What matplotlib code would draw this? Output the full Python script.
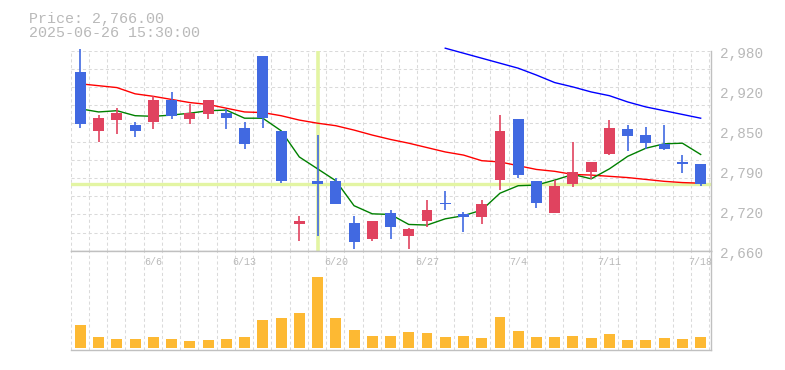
import matplotlib
matplotlib.use("Agg")
import matplotlib.pyplot as plt
import matplotlib.transforms as mtransforms
import numpy as np

# ---------------- data ----------------
dates = ["6/2", "6/3", "6/4", "6/5", "6/6", "6/9", "6/10", "6/11", "6/12", "6/13",
         "6/16", "6/17", "6/18", "6/19", "6/20", "6/23", "6/24", "6/25", "6/26", "6/27",
         "6/30", "7/1", "7/2", "7/3", "7/4", "7/7", "7/8", "7/9", "7/10", "7/11",
         "7/14", "7/15", "7/16", "7/17", "7/18"]
opens = [2946, 2852, 2869, 2861, 2866, 2901, 2871, 2878, 2880, 2856,
         2971, 2851, 2702, 2771, 2771, 2704, 2679, 2720, 2683, 2707,
         2736, 2718, 2714, 2773, 2871, 2771, 2720, 2767, 2786, 2815,
         2855, 2845, 2831, 2802, 2799]
highs = [2983, 2877, 2888, 2866, 2907, 2914, 2895, 2901, 2887, 2866,
         2971, 2851, 2715, 2845, 2776, 2715, 2708, 2725, 2696, 2741,
         2755, 2722, 2741, 2877, 2871, 2771, 2773, 2834, 2802, 2869,
         2861, 2858, 2861, 2813, 2799]
lows = [2857, 2834, 2847, 2842, 2855, 2871, 2862, 2871, 2855, 2822,
        2857, 2769, 2676, 2684, 2734, 2663, 2676, 2679, 2663, 2698,
        2725, 2690, 2703, 2757, 2777, 2729, 2720, 2762, 2774, 2813,
        2820, 2822, 2821, 2785, 2764]
closes = [2863, 2872, 2880, 2852, 2901, 2876, 2880, 2901, 2872, 2830,
          2873, 2772, 2708, 2766, 2734, 2674, 2708, 2698, 2695, 2725,
          2734, 2714, 2734, 2852, 2781, 2736, 2764, 2786, 2802, 2856,
          2844, 2833, 2823, 2799, 2766]
ma_short = [2887, 2882, 2884, 2876, 2875, 2877, 2880, 2884, 2885, 2872,
            2872, 2852, 2810, 2791, 2772, 2732, 2719, 2718, 2702, 2701,
            2711, 2716, 2725, 2752, 2764, 2765, 2773, 2782, 2775, 2791,
            2811, 2824, 2831, 2832, 2814]
ma_mid = [2927, 2924, 2921, 2911, 2907, 2902, 2897, 2894, 2888, 2882,
          2881, 2876, 2869, 2864, 2860, 2853, 2845, 2838, 2832, 2825,
          2818, 2813, 2804, 2802, 2796, 2790, 2787, 2782, 2781, 2779,
          2777, 2774, 2771, 2769, 2768]
ma_long = [np.nan] * 20 + [2984, 2976, 2968, 2960, 2952, 2941, 2929, 2922, 2914, 2908,
                           2898, 2890, 2884, 2878, 2872]
volumes = [345000, 165000, 135000, 135000, 165000, 135000, 105000, 120000, 135000, 165000,
           420000, 450000, 525000, 1065000, 450000, 270000, 180000, 180000, 240000, 225000,
           165000, 180000, 150000, 465000, 255000, 165000, 165000, 180000, 150000, 210000,
           120000, 120000, 150000, 135000, 165000]
xtick_labels = ["6/6", "6/13", "6/20", "6/27", "7/4", "7/11", "7/18"]
ytick_values = [2660, 2724, 2788, 2852, 2916, 2980]
ytick_labels = ["2,660", "2,720", "2,790", "2,850", "2,920", "2,980"]
cross_date = "6/19"
cross_price = 2766
title_lines = ["Price: 2,766.00", "2025-06-26 15:30:00"]

# ---------------- style ----------------
FONT = ["Liberation Mono", "DejaVu Sans Mono"]
TXT = "#b9b9b9"
GRID = "#dadada"
SPINE = "#c0c0c0"
UP = "#e0435f"
DOWN = "#4169e1"
VOL = "#fdb933"
CROSS = "#e3f5a3"

W, H = 785, 370
fig = plt.figure(figsize=(W / 100, H / 100), dpi=100)
fig.patch.set_facecolor("white")

L, R = 70.7, 710.7
ax = fig.add_axes([L / W, (H - 250.7) / H, (R - L) / W, 200 / H])
axv = fig.add_axes([L / W, (H - 350) / H, (R - L) / W, 99.3 / H])

x = np.arange(len(dates))
xlim = (-0.53, len(dates) - 1 + 0.55)
grid_x = np.arange(len(dates) + 1) - 0.53

for a in (ax, axv):
    a.set_xlim(*xlim)
    a.set_facecolor("white")
    for gx in grid_x:
        a.axvline(gx, color=GRID, lw=0.75, ls=(0, (3, 2.5)), zorder=0)
    a.set_xticks([])
    for s in a.spines.values():
        s.set_color(SPINE)
        s.set_linewidth(1.0)
    a.spines["left"].set_visible(False)

# price panel
ax.set_ylim(2660, 2980)
ax.spines["top"].set_visible(False)
for gy in np.linspace(2660, 2980, 12):
    ax.axhline(gy, color=GRID, lw=0.75, ls=(0, (3, 2.5)), zorder=0)

# crosshair
ci = dates.index(cross_date)
ax.axvline(ci, ymin=0.005, ymax=0.995, color=CROSS, lw=2.6, zorder=1)
ax.axhline(cross_price, color=CROSS, lw=2.4, zorder=1)

# moving averages
ax.plot(x, ma_mid, color="#ff0000", lw=1.0, zorder=2)
ax.plot(x, ma_short, color="#008000", lw=1.0, zorder=2)
ax.plot(x, ma_long, color="#0000ff", lw=1.0, zorder=2, clip_on=False)

# candles
o = np.array(opens, float)
c = np.array(closes, float)
cols = [UP if cc > oo else DOWN for oo, cc in zip(o, c)]
ax.vlines(x, lows, highs, colors=cols, lw=1.2, zorder=3, clip_on=False)
ax.bar(x, np.maximum(np.abs(c - o), 1.2), bottom=np.minimum(o, c), width=0.6,
       color=cols, zorder=4)

ax.yaxis.tick_right()
ax.set_yticks(ytick_values)
ax.set_yticklabels(ytick_labels, family=FONT, fontsize=10.4, color=TXT)
ax.tick_params(axis="y", length=0, pad=6.8)
off = mtransforms.ScaledTranslation(0, -2 / 100, fig.dpi_scale_trans)
for lab in ax.get_yticklabels():
    lab.set_transform(lab.get_transform() + off)

# volume panel
axv.bar(x, volumes, width=0.6, color=VOL, zorder=2)
axv.set_ylim(-30000, 1460000)
axv.set_yticks([])
trans = mtransforms.blended_transform_factory(axv.transData, axv.transAxes)
for lbl in xtick_labels:
    axv.text(dates.index(lbl), 0.883, lbl, transform=trans, ha="center", va="center",
             family=FONT, fontsize=7.2, color=TXT, zorder=3)

# title
fig.text(29 / W, 1 - 22.7 / H, title_lines[0], family=FONT, fontsize=10.8,
         color=TXT, va="baseline", ha="left")
fig.text(29 / W, 1 - 37.3 / H, title_lines[1], family=FONT, fontsize=10.8,
         color=TXT, va="baseline", ha="left")

fig.savefig("out.png", dpi=100, facecolor="white")
